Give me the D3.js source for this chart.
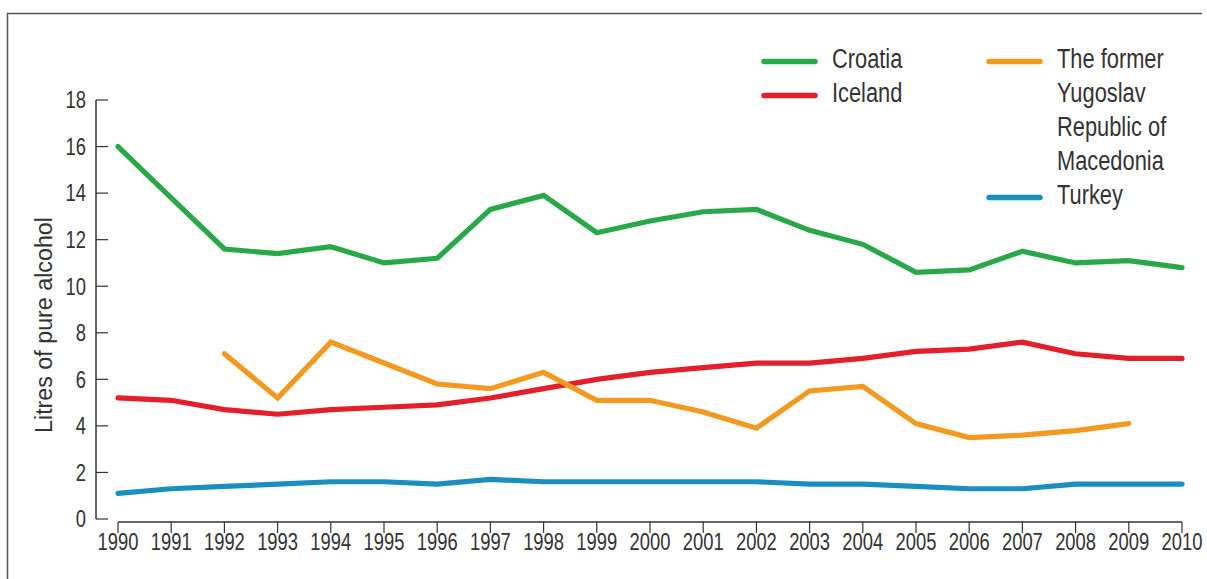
<!DOCTYPE html>
<html><head><meta charset="utf-8">
<script src="https://cdn.jsdelivr.net/npm/d3@7"></script>
<style>
body{margin:0;background:#fff;}
text{font-family:"Liberation Sans","Arial",sans-serif;fill:#333;}
</style></head>
<body><svg id="c" width="1207" height="579"></svg>
<script>
const years = d3.range(1990, 2011);
const croatia = [16.0,13.8,11.6,11.4,11.7,11.0,11.2,13.3,13.9,12.3,12.8,13.2,13.3,12.4,11.8,10.6,10.7,11.5,11.0,11.1,10.8];
const iceland = [5.2,5.1,4.7,4.5,4.7,4.8,4.9,5.2,5.6,6.0,6.3,6.5,6.7,6.7,6.9,7.2,7.3,7.6,7.1,6.9,6.9];
const macedonia = [null,null,7.1,5.2,7.6,6.7,5.8,5.6,6.3,5.1,5.1,4.6,3.9,5.5,5.7,4.1,3.5,3.6,3.8,4.1,null];
const turkey = [1.1,1.3,1.4,1.5,1.6,1.6,1.5,1.7,1.6,1.6,1.6,1.6,1.6,1.5,1.5,1.4,1.3,1.3,1.5,1.5,1.5];
const yTicks = [0,2,4,6,8,10,12,14,16,18];
const seriesNames = ["Croatia","Iceland","The former Yugoslav Republic of Macedonia","Turkey"];
const seriesColors = ["#29a84a","#e41f2b","#f4991f","#1a8fbf"];

const svg = d3.select("#c");
// condensed text helper
function ctext(parent, px, py, str, size, anchor, sx, rot){
  const g = parent.append("g").attr("transform",`translate(${px},${py})`+(rot?` rotate(${rot})`:"")+` scale(${sx},1)`);
  return g.append("text").attr("x",0).attr("y",0).attr("text-anchor",anchor).attr("font-size",size).text(str);
}

// frame
svg.append("path").attr("d","M7.5,579 V13.5 H1202").attr("fill","none").attr("stroke","#555").attr("stroke-width",1.5);

const x = d3.scaleLinear().domain([1990,2010]).range([118,1182]);
const y = d3.scaleLinear().domain([0,18]).range([519,100]);

// y axis
const ya = svg.append("g").attr("transform","translate(96,0)");
ya.append("line").attr("x1",0).attr("x2",0).attr("y1",y(18)).attr("y2",y(0)).attr("stroke","#333").attr("stroke-width",1.5);
yTicks.forEach(d=>{
  ya.append("line").attr("x1",0).attr("x2",12).attr("y1",y(d)).attr("y2",y(d)).attr("stroke","#333").attr("stroke-width",1.2);
  ctext(ya, -10, y(d)+8.3, d, 23, "end", 0.8);
});

// x axis
const xa = svg.append("g").attr("transform","translate(0,522)");
xa.append("line").attr("x1",x(1990)).attr("x2",x(2010)).attr("y1",0).attr("y2",0).attr("stroke","#333").attr("stroke-width",1.5);
years.forEach(d=>{
  xa.append("line").attr("x1",x(d)).attr("x2",x(d)).attr("y1",0).attr("y2",11).attr("stroke","#333").attr("stroke-width",1.2);
  ctext(xa, x(d), 28, d, 23, "middle", 0.8);
});

// y label
ctext(svg, 52, 325, "Litres of pure alcohol", 24, "middle", 0.97, -90);

// lines
const line = d3.line().defined(d=>d[1]!=null).x(d=>x(d[0])).y(d=>y(d[1]));
[croatia,iceland,macedonia,turkey].forEach((vals,i)=>{
  svg.append("path").datum(years.map((yr,j)=>[yr,vals[j]]))
    .attr("d",line).attr("fill","none").attr("stroke",seriesColors[i])
    .attr("stroke-width",5.2).attr("stroke-linejoin","miter").attr("stroke-linecap","round");
});

// legend
const leg = [
  {i:0, x:764, y:61.5, lines:["Croatia"]},
  {i:1, x:764, y:95.5, lines:["Iceland"]},
  {i:2, x:989, y:61.5, lines:["The former","Yugoslav","Republic of","Macedonia"]},
  {i:3, x:989, y:197.5, lines:["Turkey"]}
];
leg.forEach(l=>{
  svg.append("line").attr("x1",l.x).attr("x2",l.x+51).attr("y1",l.y).attr("y2",l.y)
    .attr("stroke",seriesColors[l.i]).attr("stroke-width",5.5).attr("stroke-linecap","round");
  l.lines.forEach((s,k)=>ctext(svg, l.x+68, l.y+6.8+k*34, s, 28, "start", 0.78));
});
</script></body></html>
